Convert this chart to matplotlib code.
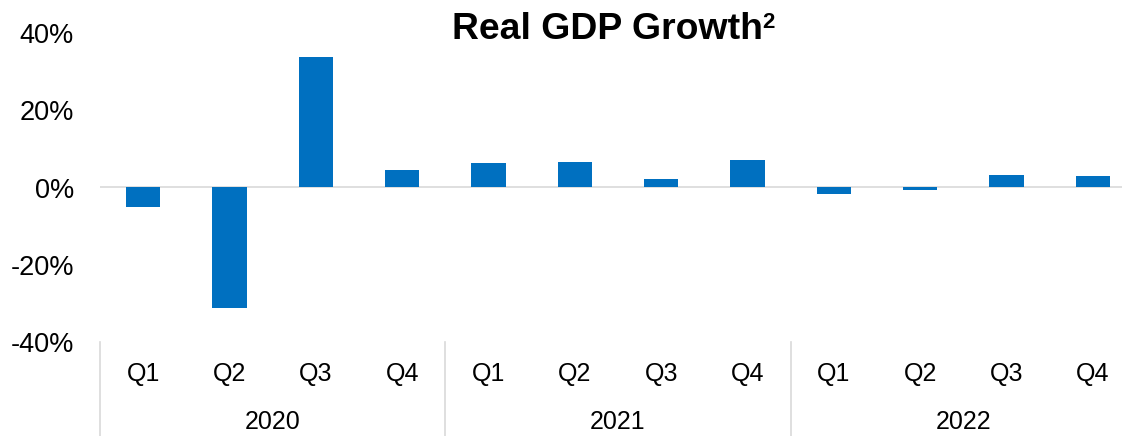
import matplotlib
matplotlib.use("Agg")
import matplotlib.pyplot as plt
from matplotlib.ticker import FuncFormatter

plt.rcParams['font.family'] = ['Liberation Sans', 'DejaVu Sans']

years = ["2020", "2021", "2022"]
quarters = ["Q1", "Q2", "Q3", "Q4"]
growth = [-5.1, -31.2, 33.8, 4.5,
          6.3, 6.7, 2.3, 7.0,
          -1.6, -0.6, 3.2, 2.9]
yticks = [-40, -20, 0, 20, 40]

W, H = 1122, 436
fig = plt.figure(figsize=(W / 100, H / 100), dpi=100)
ax = fig.add_axes([100 / W, 94 / H, 1036 / W, 309 / H])

labels = [q for _ in years for q in quarters]
x = list(range(len(growth)))
ax.bar(x, growth, width=0.4, color="#0070C0", zorder=3)

ax.set_xlim(-0.5, len(growth) - 0.5)
ax.set_ylim(-40, 40)
ax.set_yticks(yticks)
ax.yaxis.set_major_formatter(FuncFormatter(lambda v, p: f"{int(v)}%"))
ax.tick_params(axis='y', length=0, pad=18.7, labelsize=19.5)
ax.set_xticks([])

for s in ax.spines.values():
    s.set_visible(False)
ax.axhline(0, color="#d9d9d9", lw=1.2, zorder=2)

trans = ax.get_xaxis_transform()
bottom = -94 / 309
for i, lab in enumerate(labels):
    ax.text(i, -39 / 309, lab, transform=trans, ha='center', va='baseline', fontsize=18)

for i in range(len(years)):
    xs = i * 4 - 0.5
    ax.plot([xs, xs], [0, bottom], color="#d9d9d9", lw=1.2, transform=trans, clip_on=False)
    ax.text(i * 4 + 1.5, -87 / 309, years[i], transform=trans, ha='center', va='baseline',
            fontsize=18)

fig.text(452 / W, 1 - 39 / H, "Real GDP Growth", fontsize=26.9, fontweight='bold',
         ha='left', va='baseline')
fig.text(762 / W, 1 - 28 / H, "2", fontsize=16, fontweight='bold', ha='left', va='baseline')

fig.savefig("out.png", dpi=100, facecolor="white")
